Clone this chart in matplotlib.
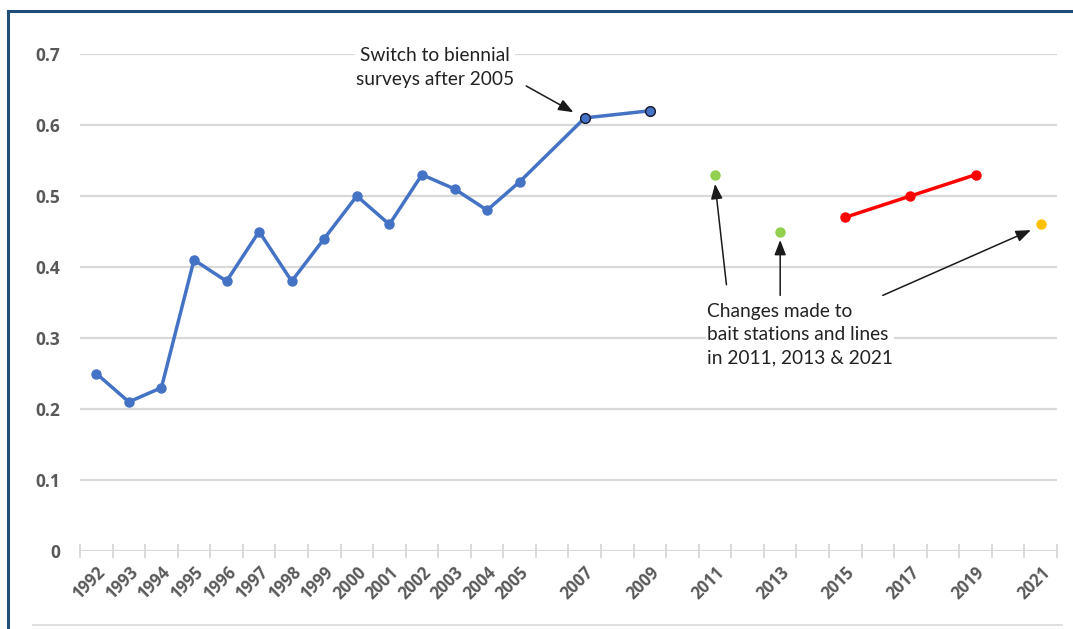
import numpy as np
import matplotlib.pyplot as plt
from matplotlib.lines import Line2D

# survey data
years_all = list(range(1992, 2022))
blue_years = [1992, 1993, 1994, 1995, 1996, 1997, 1998, 1999, 2000, 2001,
              2002, 2003, 2004, 2005, 2007, 2009]
blue_vals = [0.25, 0.21, 0.23, 0.41, 0.38, 0.45, 0.38, 0.44, 0.50, 0.46,
             0.53, 0.51, 0.48, 0.52, 0.61, 0.62]
green_years = [2011, 2013]
green_vals = [0.53, 0.45]
red_years = [2015, 2017, 2019]
red_vals = [0.47, 0.50, 0.53]
orange_years = [2021]
orange_vals = [0.46]
label_years = blue_years + green_years + red_years + orange_years
y_ticks = [0, 0.1, 0.2, 0.3, 0.4, 0.5, 0.6, 0.7]
y_labels = ["0", "0.1", "0.2", "0.3", "0.4", "0.5", "0.6", "0.7"]


def pos(years):
    return np.array(years) - years_all[0]


fig = plt.figure(figsize=(10.73, 6.29), dpi=100)
ax = fig.add_axes([80 / 1073, 78 / 629, 977 / 1073, 497 / 629])

ax.set_xlim(-0.5, len(years_all) - 0.5)
ax.set_ylim(0, 0.7)

gray = "#d9d9d9"
for y in y_ticks[1:]:
    ax.axhline(y, color=gray, lw=1.6, zorder=0)
ax.axhline(0, color=gray, lw=1.6, zorder=1)

# category boundary tick marks on the x axis
for b in np.arange(-0.5, len(years_all), 1.0):
    ax.plot([b, b], [-0.009, 0.009], color=gray, lw=1.4, clip_on=False, zorder=1)

for s in ax.spines.values():
    s.set_visible(False)

ax.set_yticks(y_ticks)
ax.set_yticklabels(y_labels)
ax.tick_params(axis="y", length=0, pad=14, labelsize=12.5, labelcolor="#595959")
ax.set_xticks(pos(label_years))
ax.set_xticklabels([str(y) for y in label_years], rotation=45, ha="right",
                   rotation_mode="anchor")
ax.tick_params(axis="x", length=0, pad=9, labelsize=12, labelcolor="#595959")
for lab in ax.get_xticklabels() + ax.get_yticklabels():
    lab.set_fontweight("bold")
    lab.set_family(["Open Sans", "DejaVu Sans"])

blue = "#4472C4"
ax.plot(pos(blue_years), blue_vals, color=blue, lw=2.5, marker="o", ms=6.5,
        mec=blue, zorder=3, clip_on=False)
ax.plot(pos(blue_years[-2:]), blue_vals[-2:], ls="none", marker="o", ms=7,
        mfc=blue, mec="#1a1a2e", mew=1.0, zorder=4)
ax.plot(pos(green_years), green_vals, ls="none", marker="o", ms=6.5,
        color="#92D050", zorder=3)
ax.plot(pos(red_years), red_vals, color="#FF0000", lw=2.5, marker="o", ms=6.5,
        zorder=3)
ax.plot(pos(orange_years), orange_vals, ls="none", marker="o", ms=6.5,
        color="#FFC000", zorder=3)

txt_font = ["Lato", "DejaVu Sans"]
arrow = dict(arrowstyle="-|>,head_length=0.9,head_width=0.35", color="#1a1a1a",
             lw=1.1, shrinkA=0, shrinkB=0)

ax.text(pos([2005])[0] - 2.6, 0.681, "Switch to biennial\nsurveys after 2005",
        ha="center", va="center", fontsize=13.8, family=txt_font,
        color="#222222", linespacing=1.45, zorder=5,
        bbox=dict(facecolor="white", edgecolor="none", pad=1))
ax.annotate("", xy=(pos([2007])[0] - 0.35, 0.618), xytext=(pos([2005])[0] + 0.2, 0.655),
            arrowprops=arrow, zorder=5)

ax.text(pos([2011])[0] - 0.25, 0.305, "Changes made to\nbait stations and lines\nin 2011, 2013 & 2021",
        ha="left", va="center", fontsize=13.8, family=txt_font,
        color="#222222", linespacing=1.45, zorder=5,
        bbox=dict(facecolor="white", edgecolor="none", pad=1))
ax.annotate("", xy=(pos([2011])[0], 0.517), xytext=(pos([2011])[0] + 0.35, 0.375),
            arrowprops=arrow, zorder=5)
ax.annotate("", xy=(pos([2013])[0], 0.438), xytext=(pos([2013])[0], 0.36),
            arrowprops=arrow, zorder=5)
ax.annotate("", xy=(pos([2021])[0] - 0.3, 0.452), xytext=(pos([2016])[0] + 0.15, 0.36),
            arrowprops=arrow, zorder=5)

# outer frame: dark blue on top and left, light rule at the bottom
navy = "#1F4E79"
fig.add_artist(Line2D([8 / 1073, 8 / 1073], [0, 1 - 11 / 629], color=navy, lw=2.2))
fig.add_artist(Line2D([8 / 1073, 1], [1 - 11 / 629, 1 - 11 / 629], color=navy, lw=2.2))
fig.add_artist(Line2D([33 / 1073, 1062 / 1073], [4 / 629, 4 / 629], color=gray, lw=1.2))

fig.savefig("out.png", dpi=100, facecolor="white")
